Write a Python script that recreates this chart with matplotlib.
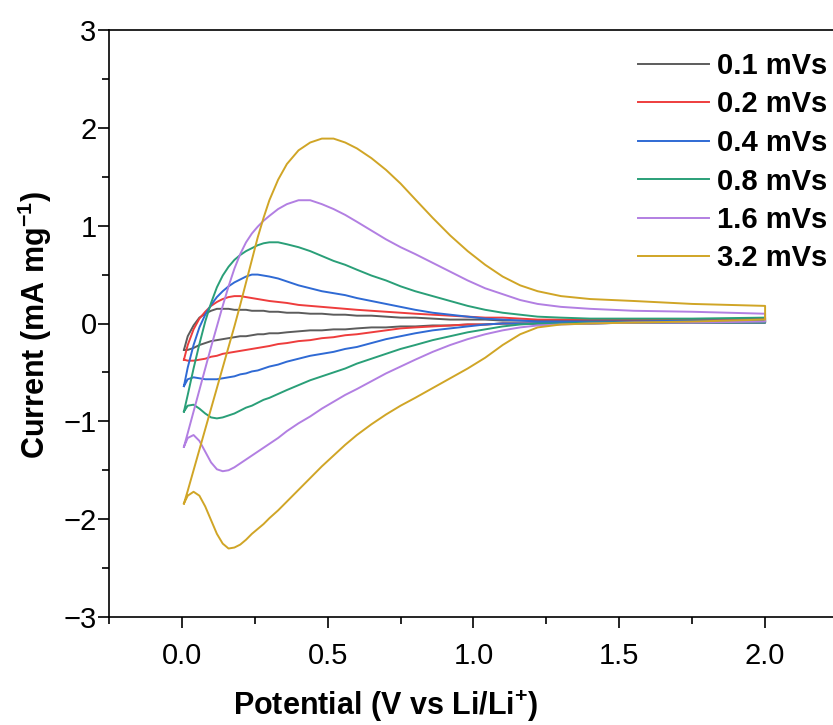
import matplotlib
matplotlib.use("Agg")
from matplotlib import pyplot as plt
from matplotlib.ticker import MultipleLocator

plt.rcParams["font.family"] = ["Liberation Sans", "DejaVu Sans"]
plt.rcParams["mathtext.fontset"] = "custom"
plt.rcParams["mathtext.rm"] = "Liberation Sans"
plt.rcParams["mathtext.bf"] = "Liberation Sans:bold"

# potential grid (V vs Li/Li+)
potential = [0.007, 0.02, 0.04, 0.06, 0.08, 0.10, 0.12, 0.14, 0.16, 0.18,
             0.20, 0.22, 0.24, 0.26, 0.28, 0.30, 0.33, 0.36, 0.40, 0.44,
             0.48, 0.52, 0.56, 0.60, 0.65, 0.70, 0.75, 0.80, 0.86, 0.92,
             0.98, 1.04, 1.10, 1.16, 1.22, 1.30, 1.40, 1.55, 1.75, 2.0]

labels = ["0.1 mVs", "0.2 mVs", "0.4 mVs", "0.8 mVs", "1.6 mVs", "3.2 mVs"]
colors = ["#5c5c5c", "#ee3d3d", "#2f6ad4", "#2a9f78", "#b27fe2", "#d0a526"]

# anodic sweeps (upper branches), mA/mg
up_01 = [-0.27, -0.13, -0.02, 0.06, 0.10, 0.13, 0.15, 0.15, 0.15, 0.14,
         0.14, 0.14, 0.13, 0.13, 0.13, 0.12, 0.12, 0.11, 0.11, 0.10,
         0.10, 0.09, 0.09, 0.08, 0.08, 0.07, 0.06, 0.06, 0.05, 0.04,
         0.04, 0.04, 0.03, 0.03, 0.03, 0.03, 0.03, 0.03, 0.03, 0.03]
up_02 = [-0.37, -0.22, -0.06, 0.05, 0.12, 0.18, 0.22, 0.25, 0.27, 0.28,
         0.28, 0.27, 0.26, 0.25, 0.24, 0.23, 0.22, 0.21, 0.19, 0.18,
         0.17, 0.16, 0.15, 0.14, 0.13, 0.12, 0.11, 0.10, 0.09, 0.08,
         0.07, 0.06, 0.06, 0.05, 0.04, 0.04, 0.04, 0.04, 0.04, 0.05]
up_04 = [-0.64, -0.45, -0.22, -0.04, 0.09, 0.19, 0.27, 0.33, 0.38, 0.42,
         0.45, 0.48, 0.50, 0.50, 0.49, 0.48, 0.46, 0.43, 0.39, 0.36,
         0.33, 0.31, 0.29, 0.26, 0.23, 0.20, 0.17, 0.14, 0.11, 0.09,
         0.07, 0.05, 0.04, 0.03, 0.02, 0.02, 0.02, 0.02, 0.03, 0.03]
up_08 = [-0.90, -0.73, -0.46, -0.21, 0.02, 0.21, 0.37, 0.49, 0.58, 0.65,
         0.70, 0.74, 0.77, 0.80, 0.82, 0.83, 0.83, 0.81, 0.78, 0.74,
         0.69, 0.64, 0.60, 0.55, 0.49, 0.44, 0.38, 0.33, 0.28, 0.23,
         0.18, 0.14, 0.11, 0.09, 0.07, 0.06, 0.05, 0.05, 0.05, 0.06]
up_16 = [-1.26, -1.12, -0.90, -0.68, -0.46, -0.24, -0.03, 0.18, 0.38, 0.56,
         0.71, 0.83, 0.92, 0.99, 1.05, 1.10, 1.17, 1.22, 1.26, 1.26,
         1.22, 1.17, 1.11, 1.04, 0.95, 0.86, 0.78, 0.71, 0.62, 0.53,
         0.44, 0.36, 0.30, 0.24, 0.20, 0.17, 0.15, 0.13, 0.12, 0.10]
up_32 = [-1.84, -1.71, -1.50, -1.29, -1.08, -0.87, -0.66, -0.45, -0.24, -0.03,
         0.19, 0.42, 0.65, 0.88, 1.08, 1.26, 1.47, 1.63, 1.77, 1.85,
         1.89, 1.89, 1.85, 1.79, 1.69, 1.57, 1.43, 1.27, 1.08, 0.90,
         0.74, 0.60, 0.48, 0.39, 0.33, 0.28, 0.25, 0.23, 0.20, 0.18]

# cathodic sweeps (lower branches), mA/mg
dn_01 = [-0.27, -0.27, -0.25, -0.22, -0.20, -0.18, -0.17, -0.16, -0.15, -0.14,
         -0.13, -0.13, -0.12, -0.11, -0.11, -0.10, -0.10, -0.09, -0.08, -0.07,
         -0.07, -0.06, -0.06, -0.05, -0.04, -0.04, -0.03, -0.03, -0.02, -0.02,
         -0.01, -0.01, 0.0, 0.0, 0.0, 0.0, 0.0, 0.01, 0.01, 0.01]
dn_02 = [-0.37, -0.38, -0.38, -0.37, -0.36, -0.34, -0.33, -0.31, -0.30, -0.29,
         -0.28, -0.27, -0.26, -0.25, -0.24, -0.23, -0.21, -0.20, -0.18, -0.17,
         -0.15, -0.14, -0.12, -0.11, -0.09, -0.07, -0.05, -0.04, -0.03, -0.02,
         -0.01, -0.01, 0.0, 0.0, 0.0, 0.0, 0.01, 0.01, 0.01, 0.01]
dn_04 = [-0.64, -0.57, -0.55, -0.56, -0.57, -0.57, -0.57, -0.56, -0.55, -0.54,
         -0.52, -0.51, -0.49, -0.48, -0.46, -0.44, -0.42, -0.39, -0.36, -0.33,
         -0.31, -0.29, -0.26, -0.24, -0.20, -0.16, -0.13, -0.10, -0.07, -0.05,
         -0.03, -0.01, 0.0, 0.0, 0.0, 0.0, 0.0, 0.01, 0.01, 0.01]
dn_08 = [-0.90, -0.84, -0.83, -0.87, -0.92, -0.96, -0.97, -0.96, -0.94, -0.92,
         -0.89, -0.86, -0.84, -0.81, -0.78, -0.76, -0.72, -0.68, -0.63, -0.58,
         -0.54, -0.50, -0.46, -0.41, -0.36, -0.31, -0.26, -0.22, -0.17, -0.13,
         -0.09, -0.06, -0.03, -0.01, 0.0, 0.0, 0.01, 0.01, 0.01, 0.01]
dn_16 = [-1.26, -1.17, -1.14, -1.20, -1.31, -1.42, -1.49, -1.51, -1.50, -1.47,
         -1.43, -1.39, -1.35, -1.31, -1.27, -1.23, -1.17, -1.10, -1.02, -0.95,
         -0.87, -0.80, -0.73, -0.67, -0.59, -0.51, -0.44, -0.37, -0.29, -0.22,
         -0.16, -0.11, -0.07, -0.04, -0.02, -0.01, 0.0, 0.01, 0.01, 0.02]
dn_32 = [-1.84, -1.76, -1.72, -1.76, -1.87, -2.01, -2.15, -2.25, -2.30, -2.29,
         -2.26, -2.21, -2.15, -2.10, -2.05, -1.99, -1.91, -1.82, -1.70, -1.58,
         -1.46, -1.35, -1.24, -1.14, -1.03, -0.93, -0.84, -0.76, -0.66, -0.56,
         -0.46, -0.35, -0.22, -0.11, -0.04, -0.01, 0.0, 0.01, 0.02, 0.04]

upper = [up_01, up_02, up_04, up_08, up_16, up_32]
lower = [dn_01, dn_02, dn_04, dn_08, dn_16, dn_32]

fig = plt.figure(figsize=(8.33, 7.25), dpi=100)
ax = fig.add_axes([109 / 833, 108 / 725, 729 / 833, 587 / 725])

for lab, col, up, dn in zip(labels, colors, upper, lower):
    # closed loop: anodic sweep out to 2.0 V, cathodic sweep back
    xs = potential + potential[::-1]
    ys = up + dn[::-1]
    ax.plot(xs, ys, color=col, lw=1.4, label=lab)

ax.set_xlim(-0.25, 2.25)
ax.set_ylim(-3, 3)
ax.xaxis.set_major_locator(MultipleLocator(0.5))
ax.xaxis.set_minor_locator(MultipleLocator(0.25))
ax.yaxis.set_major_locator(MultipleLocator(1))
ax.yaxis.set_minor_locator(MultipleLocator(0.5))
ax.tick_params(which="major", direction="out", length=8, width=1.2,
               labelsize=21, top=False, right=False)
ax.tick_params(which="minor", direction="out", length=5, width=1.2,
               top=False, right=False)
ax.tick_params(axis="x", pad=10)
ax.tick_params(axis="y", pad=1)
for s in ax.spines.values():
    s.set_linewidth(1.2)
ax.spines["right"].set_visible(False)

ax.set_xlabel("Potential (V vs Li/Li$^{\\mathbf{+}}$)", fontsize=22,
              fontweight="bold")
ax.set_ylabel("Current (mA mg$^{\\mathbf{-1}}$)", fontsize=22,
              fontweight="bold")
ax.xaxis.set_label_coords(0.38, -0.121)
ax.yaxis.set_label_coords(-0.076, 0.497)

leg = ax.legend(loc="upper right", bbox_to_anchor=(827 / 833, 1 - 52 / 725),
                bbox_transform=fig.transFigure, frameon=False,
                prop={"size": 21, "weight": "bold"}, handlelength=2.45,
                handletextpad=0.25, labelspacing=0.36, borderpad=0,
                borderaxespad=0)

fig.savefig("out.png", dpi=100)
